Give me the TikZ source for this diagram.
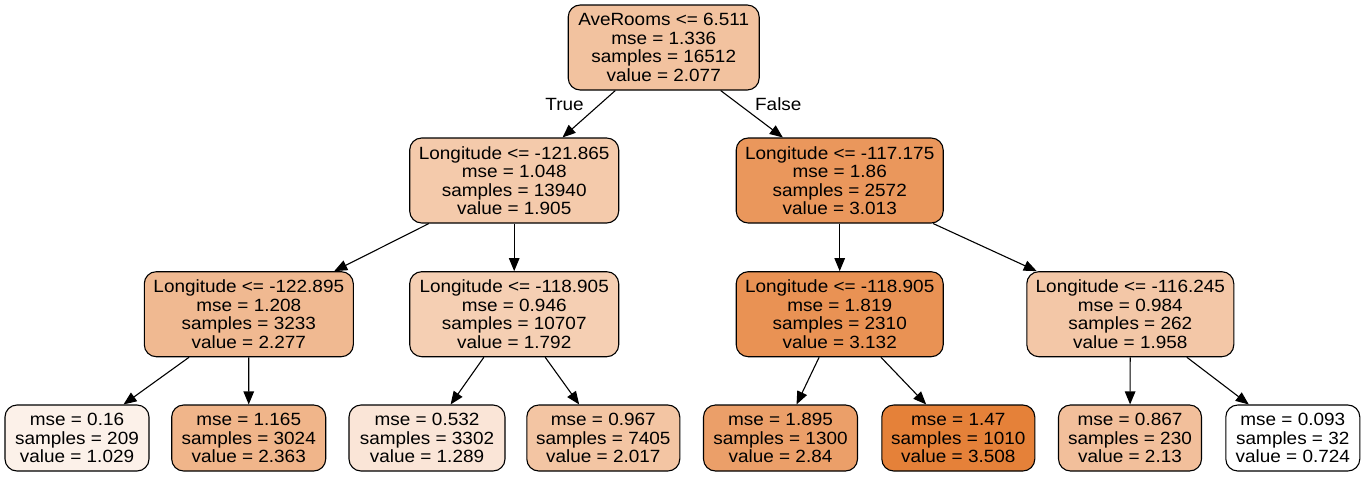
\documentclass[tikz,border=0pt]{standalone}
\usepackage{fontspec}
\setmainfont[FakeStretch=1.07]{Liberation Sans}
\usetikzlibrary{arrows.meta}
\definecolor{orng}{RGB}{229,129,57}
\tikzset{
  tnode/.style={draw=black, line width=1.1pt, rounded corners=12pt, align=center,
    inner sep=0pt, minimum height=85pt,
    font=\fontsize{17.7}{18.5}\selectfont},
  leaf/.style={tnode, minimum height=66pt},
  edge/.style={line width=1.1pt, -{Triangle[length=13pt,width=10.5pt]}},
  elabel/.style={font=\fontsize{17.7}{18.5}\selectfont}
}
\begin{document}
\begin{tikzpicture}[x=1pt,y=-1pt]
\useasboundingbox (0,0) rectangle (1365,477);
\node[tnode, minimum width=191pt, fill=orng!48.6!white] (root) at (663.7,47.5)
  {AveRooms <= 6.511\\mse = 1.336\\samples = 16512\\value = 2.077};
\node[tnode, minimum width=209pt, fill=orng!42.4!white] (l) at (514.2,180.5)
  {Longitude <= -121.865\\mse = 1.048\\samples = 13940\\value = 1.905};
\node[tnode, minimum width=207pt, fill=orng!82.2!white] (r) at (839.7,180.5)
  {Longitude <= -117.175\\mse = 1.86\\samples = 2572\\value = 3.013};
\node[tnode, minimum width=209pt, fill=orng!55.8!white] (ll) at (248.8,314.2)
  {Longitude <= -122.895\\mse = 1.208\\samples = 3233\\value = 2.277};
\node[tnode, minimum width=209pt, fill=orng!38.4!white] (lr) at (514.2,314.2)
  {Longitude <= -118.905\\mse = 0.946\\samples = 10707\\value = 1.792};
\node[tnode, minimum width=207pt, fill=orng!86.5!white] (rl) at (839.7,314.2)
  {Longitude <= -118.905\\mse = 1.819\\samples = 2310\\value = 3.132};
\node[tnode, minimum width=207pt, fill=orng!44.3!white] (rr) at (1130.3,314.2)
  {Longitude <= -116.245\\mse = 0.984\\samples = 262\\value = 1.958};
\node[leaf, minimum width=144pt, fill=orng!11!white] (f1) at (77,438)
  {mse = 0.16\\samples = 209\\value = 1.029};
\node[leaf, minimum width=154pt, fill=orng!58.9!white] (f2) at (248.7,438)
  {mse = 1.165\\samples = 3024\\value = 2.363};
\node[leaf, minimum width=156pt, fill=orng!20.3!white] (f3) at (427,438)
  {mse = 0.532\\samples = 3302\\value = 1.289};
\node[leaf, minimum width=153pt, fill=orng!46.4!white] (f4) at (603.3,438)
  {mse = 0.967\\samples = 7405\\value = 2.017};
\node[leaf, minimum width=154pt, fill=orng!76!white] (f5) at (780.5,438)
  {mse = 1.895\\samples = 1300\\value = 2.84};
\node[leaf, minimum width=153pt, fill=orng] (f6) at (958.3,438)
  {mse = 1.47\\samples = 1010\\value = 3.508};
\node[leaf, minimum width=143pt, fill=orng!50.5!white] (f7) at (1130,438)
  {mse = 0.867\\samples = 230\\value = 2.13};
\node[leaf, minimum width=134pt, fill=white] (f8) at (1292.8,438)
  {mse = 0.093\\samples = 32\\value = 0.724};
\draw[edge] (root) -- (l);
\draw[edge] (root) -- (r);
\draw[edge] (l) -- (ll);
\draw[edge] (l) -- (lr);
\draw[edge] (r) -- (rl);
\draw[edge] (r) -- (rr);
\draw[edge] (ll) -- (f1);
\draw[edge] (ll) -- (f2);
\draw[edge] (lr) -- (f3);
\draw[edge] (lr) -- (f4);
\draw[edge] (rl) -- (f5);
\draw[edge] (rl) -- (f6);
\draw[edge] (rr) -- (f7);
\draw[edge] (rr) -- (f8);
\node[elabel] (tl) at (564.5,104) {True};
\node[elabel] (fl) at (778.3,104) {False};
\end{tikzpicture}
\end{document}
